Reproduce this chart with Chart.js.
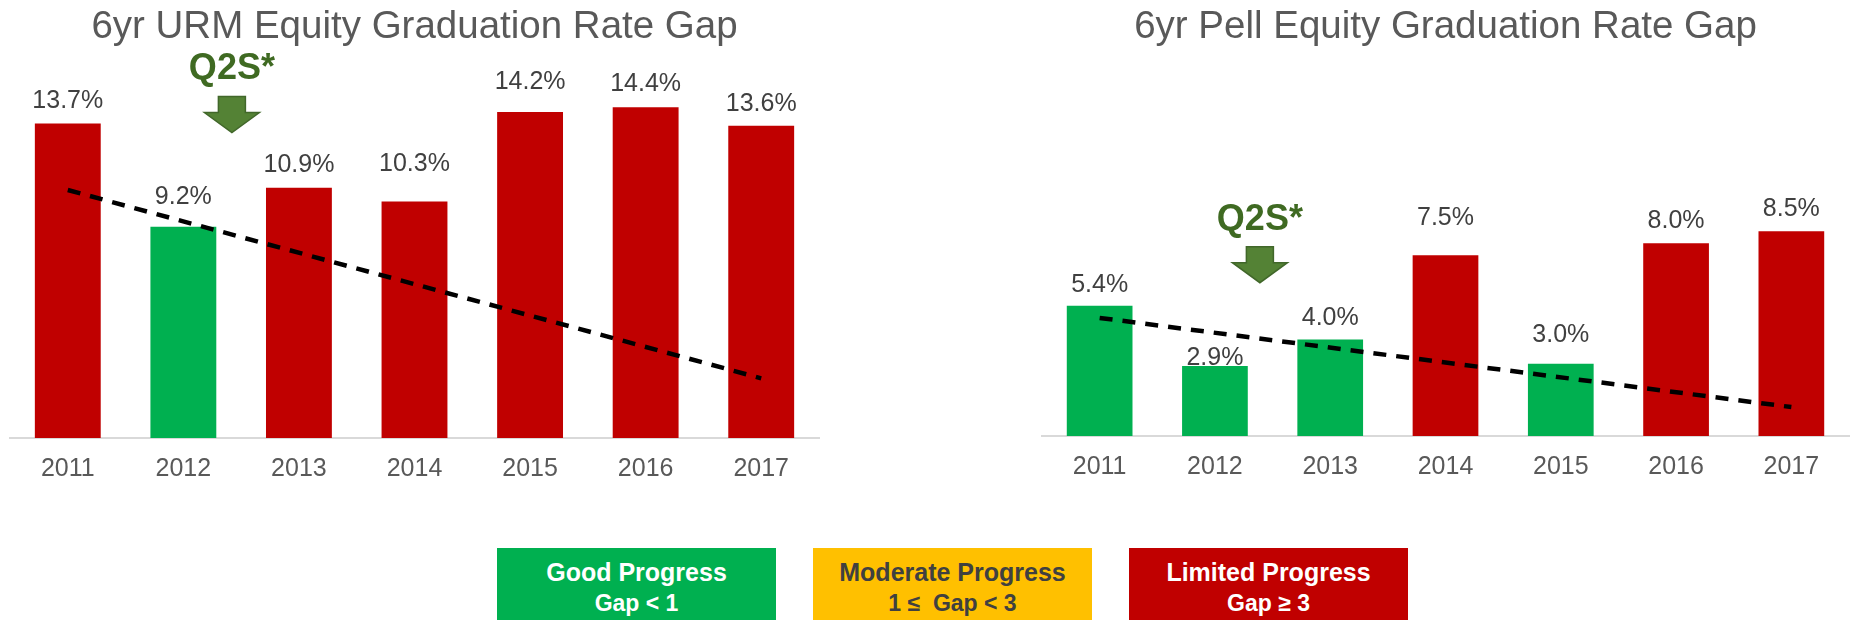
<!DOCTYPE html>
<html>
<head>
<meta charset="utf-8">
<script src="https://cdn.jsdelivr.net/npm/chart.js@4.4.1/dist/chart.umd.min.js"></script>
<style>
  body { margin: 0; width: 1851px; height: 620px; background: #fff; overflow: hidden; position: relative; font-family: 'Liberation Sans', Arial, sans-serif; }
  .wrap { position: absolute; top: 0; height: 500px; }
  .key { position: absolute; top: 548px; height: 90px; width: 279px; text-align: center; font-weight: bold; }
  .key .l1 { font-size: 25px; line-height: 30px; margin-top: 9px; }
  .key .l2 { font-size: 23px; line-height: 28px; margin-top: 2px; }
</style>
</head>
<body>
<div class="wrap" style="left:0;width:925px"><canvas id="urmChart" width="925" height="500"></canvas></div>
<div class="wrap" style="left:925px;width:926px"><canvas id="pellChart" width="926" height="500"></canvas></div>

<div class="key" style="left:497px;background:#00B050;color:#fff"><div class="l1">Good Progress</div><div class="l2">Gap &lt; 1</div></div>
<div class="key" style="left:813px;background:#FFC000;color:#404040"><div class="l1">Moderate Progress</div><div class="l2">1 ≤&nbsp; Gap &lt; 3</div></div>
<div class="key" style="left:1129px;background:#C00000;color:#fff"><div class="l1">Limited Progress</div><div class="l2">Gap ≥ 3</div></div>

<script>
// categories
const years = ['2011', '2012', '2013', '2014', '2015', '2016', '2017'];

// URM gap (%)
const urmGap = [13.7, 9.2, 10.9, 10.3, 14.2, 14.4, 13.6];
const urmStatus = ['limited', 'good', 'limited', 'limited', 'limited', 'limited', 'limited'];
const urmTrend = [10.8, null, null, null, null, null, 2.6];

// Pell gap (%)
const pellGap = [5.4, 2.9, 4.0, 7.5, 3.0, 8.0, 8.5];
const pellStatus = ['good', 'good', 'good', 'limited', 'good', 'limited', 'limited'];
const pellTrend = [4.9, null, null, null, null, null, 1.2];

const statusColors = { good: '#00B050', moderate: '#FFC000', limited: '#C00000' };
const FONT = "'Liberation Sans', Arial, sans-serif";

// value labels above the bars
const valueLabels = {
    id: 'valueLabels',
    afterDatasetsDraw(chart, args, opts) {
        const ctx = chart.ctx;
        const meta = chart.getDatasetMeta(0);
        const size = 25;
        ctx.save();
        ctx.font = size + 'px ' + FONT;
        ctx.fillStyle = '#404040';
        ctx.textAlign = 'center';
        ctx.textBaseline = 'alphabetic';
        meta.data.forEach((bar, i) => {
            const v = chart.data.datasets[0].data[i];
            const y = bar.y - opts.lift[i] + size * 0.358;
            ctx.fillText(v.toFixed(1) + '%', bar.x, y);
        });
        ctx.restore();
    }
};

// "Q2S*" note with arrow
const q2sNote = {
    id: 'q2sNote',
    afterDraw(chart, args, opts) {
        const ctx = chart.ctx;
        const xs = chart.scales.x;
        const p1 = xs.getPixelForValue(1), p2 = xs.getPixelForValue(2);
        const cx = p1 + opts.at * (p2 - p1);
        const tip = chart.scales.y.getPixelForValue(opts.tipValue);
        const top = tip - 36, neck = tip - 20;
        ctx.save();
        ctx.beginPath();
        ctx.moveTo(cx - 13.5, top);
        ctx.lineTo(cx + 13.5, top);
        ctx.lineTo(cx + 13.5, neck);
        ctx.lineTo(cx + 27.5, neck);
        ctx.lineTo(cx, tip);
        ctx.lineTo(cx - 27.5, neck);
        ctx.lineTo(cx - 13.5, neck);
        ctx.closePath();
        ctx.fillStyle = '#548235';
        ctx.fill();
        ctx.strokeStyle = '#41672A';
        ctx.lineWidth = 1.5;
        ctx.stroke();
        ctx.font = 'bold 36px ' + FONT;
        ctx.fillStyle = '#3F6A22';
        ctx.textAlign = 'center';
        ctx.textBaseline = 'alphabetic';
        ctx.fillText('Q2S*', cx, tip - 66 + 36 * 0.358);
        ctx.restore();
    }
};

function makeChart(id, title, values, status, trend, o) {
    return new Chart(document.getElementById(id), {
        type: 'bar',
        data: {
            labels: years,
            datasets: [{
                type: 'bar',
                data: values,
                backgroundColor: status.map(s => statusColors[s]),
                barPercentage: 1,
                categoryPercentage: 0.57,
                order: 1
            }, {
                type: 'line',
                data: trend,
                spanGaps: true,
                borderColor: '#000',
                borderWidth: 4.5,
                borderDash: [13, 10],
                pointRadius: 0,
                fill: false,
                order: 0
            }]
        },
        options: {
            responsive: false,
            animation: false,
            layout: { padding: { left: o.left, right: o.right, top: 0, bottom: 0 } },
            scales: {
                x: {
                    grid: { display: false, drawTicks: false },
                    border: { display: true, color: '#D9D9D9', width: 2 },
                    ticks: { color: '#595959', font: { family: FONT, size: 25 }, padding: 16 },
                    afterFit: s => { s.height = o.axisH; }
                },
                y: { display: false, min: 0, max: o.max }
            },
            plugins: {
                legend: { display: false },
                tooltip: { enabled: false },
                title: {
                    display: true,
                    text: title,
                    fullSize: false,
                    color: '#595959',
                    font: { family: FONT, size: 38.5, weight: 'normal' },
                    padding: { top: 4.3, bottom: o.titleGap }
                },
                valueLabels: { lift: o.lift },
                q2sNote: { at: o.noteAt, tipValue: o.tipValue }
            }
        },
        plugins: [valueLabels, q2sNote]
    });
}

makeChart('urmChart', '6yr URM Equity Graduation Rate Gap', urmGap, urmStatus, urmTrend, {
    left: 10, right: 106, axisH: 62, max: 16, titleGap: 20.1,
    lift: [24, 32, 25, 39, 32, 25, 24], noteAt: 0.42, tipValue: 13.3
});

makeChart('pellChart', '6yr Pell Equity Graduation Rate Gap', pellGap, pellStatus, pellTrend, {
    left: 117, right: 2, axisH: 64, max: 10, titleGap: 144.5,
    lift: [23, 10, 24, 39, 31, 24, 24], noteAt: 0.39, tipValue: 6.36
});
</script>
</body>
</html>
